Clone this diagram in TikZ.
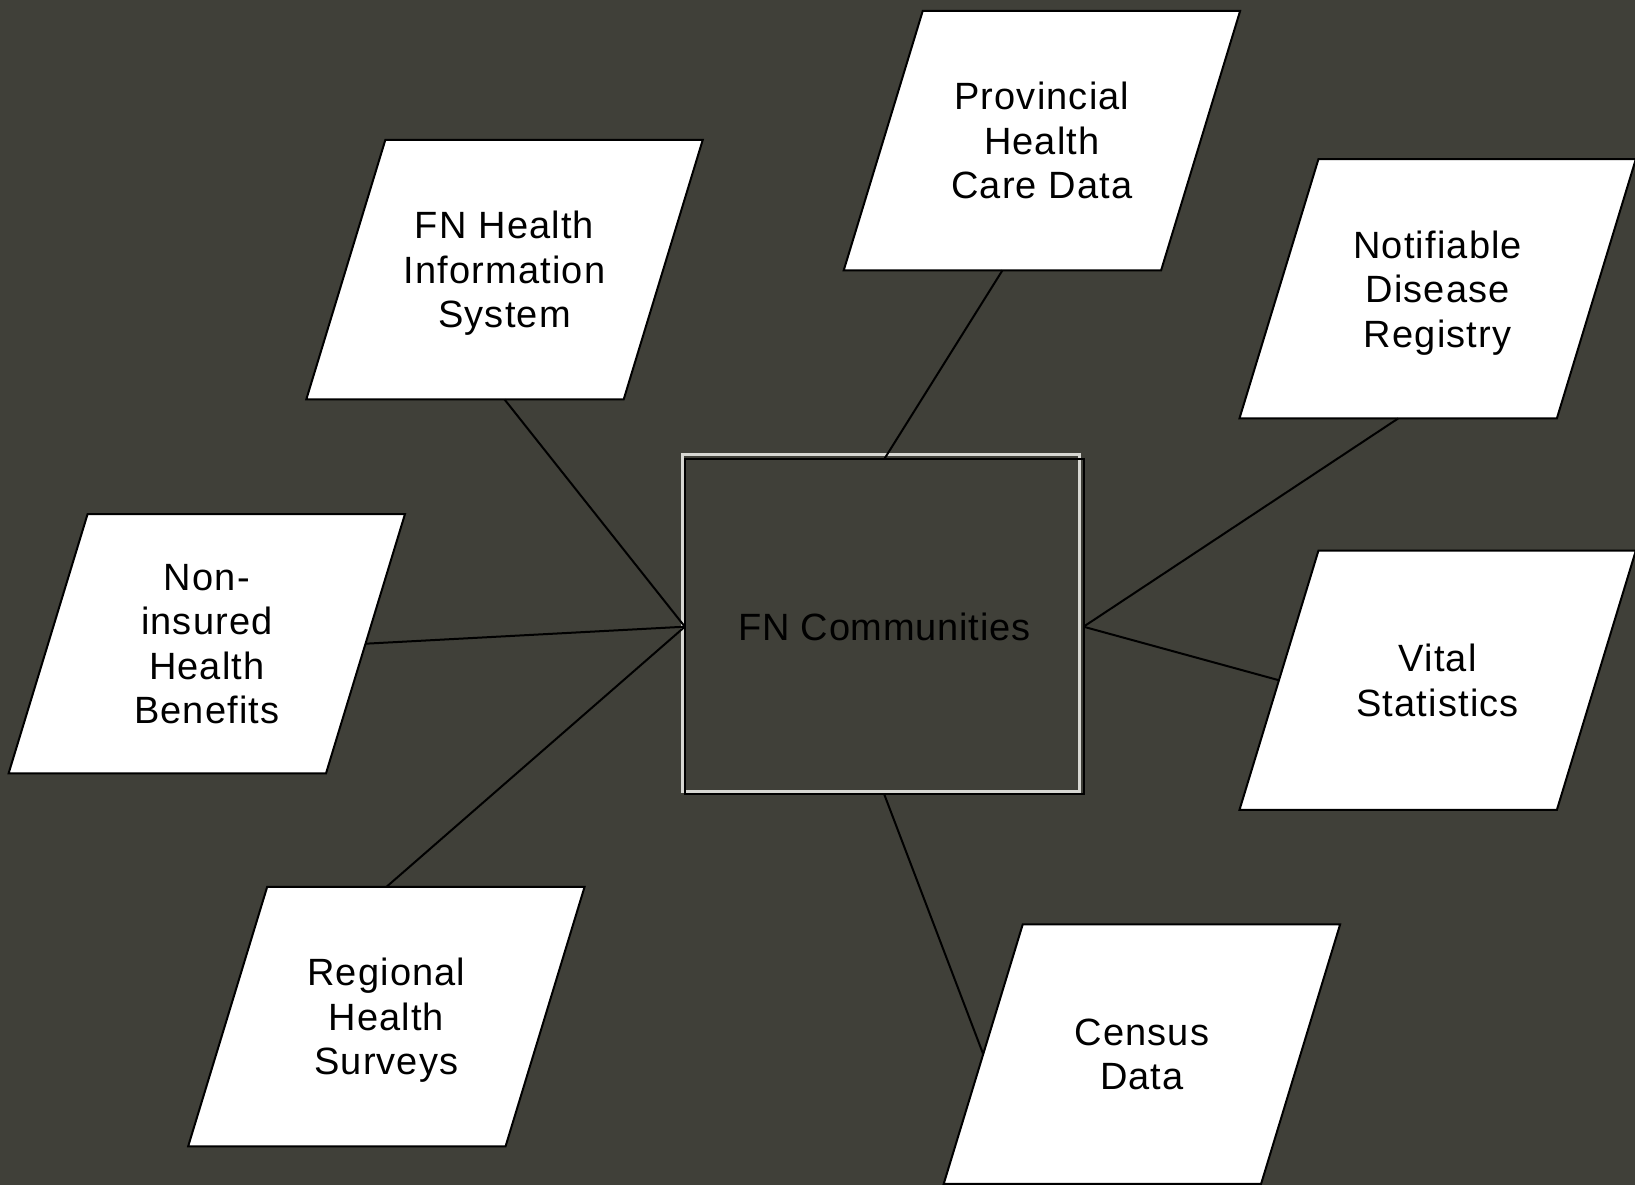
\documentclass[tikz,border=0pt]{standalone}
\usepackage{fontspec}
\setmainfont{Liberation Sans}
\newfontfamily\boxfont[LetterSpace=3]{Liberation Sans}
\newfontfamily\hubfont[LetterSpace=2]{Liberation Sans}
\usetikzlibrary{calc}
\definecolor{bgc}{RGB}{64,64,57}
\definecolor{framec}{RGB}{215,215,210}
\pgfdeclarelayer{bg}
\pgfsetlayers{bg,main}
\begin{document}
\begin{tikzpicture}[x=1pt,y=-1pt,
  src/.style={shape=rectangle, minimum width=317pt, minimum height=259pt, inner sep=0pt, align=center, text depth=0pt, font=\boxfont\fontsize{38}{44.5}\selectfont},
  hub/.style={shape=rectangle, minimum width=398.3pt, minimum height=334.7pt, inner sep=0pt, font=\hubfont\fontsize{38}{44.5}\selectfont},
  link/.style={draw=black, line width=2pt}]
\useasboundingbox (0,0) rectangle (1635,1185);
\node[src] (fnhis) at (504.5,269.7) {FN Health\\Information\\System};
\node[src] (prov) at (1041.9,140.7) {Provincial\\Health\\Care Data};
\node[src] (notif) at (1437.65,288.75) {Notifiable\\Disease\\Registry};
\node[src] (vital) at (1437.65,680.25) {Vital\\Statistics};
\node[src] (noni) at (206.8,643.7) {Non-\\insured\\Health\\Benefits};
\node[src] (reg) at (386.35,1016.65) {Regional\\Health\\Surveys};
\node[src] (census) at (1141.9,1054.15) {Census\\Data};
\node[hub] (fnc) at (884.2,626.7) {FN Communities};
\begin{pgfonlayer}{bg}
\fill[bgc] (0,0) rectangle (1635,1185);
\foreach \n in {fnhis,prov,notif,vital,noni,reg,census}
  \draw[fill=white, line width=2pt, line join=miter]
    ($(\n.north west)+(39.5,0)$) -- ($(\n.north east)+(39.5,0)$) --
    ($(\n.south east)-(39.5,0)$) -- ($(\n.south west)-(39.5,0)$) -- cycle;
\draw[framec, line width=2.5pt] ($(fnc.north west)+(-2.3,-4.6)$) rectangle ($(fnc.south east)+(-4.3,-3)$);
\draw[black, line width=2pt] (fnc.north west) rectangle (fnc.south east);
\end{pgfonlayer}
\draw[link] (fnhis.south) -- (fnc.west);
\draw[link] ($(prov.south)-(39.5,0)$) -- (fnc.north);
\draw[link] ($(notif.south)-(39.5,0)$) -- (fnc.east);
\draw[link] (vital.west) -- (fnc.east);
\draw[link] (noni.east) -- (fnc.west);
\draw[link] (reg.north) -- (fnc.west);
\draw[link] (census.west) -- (fnc.south);
\end{tikzpicture}
\end{document}
